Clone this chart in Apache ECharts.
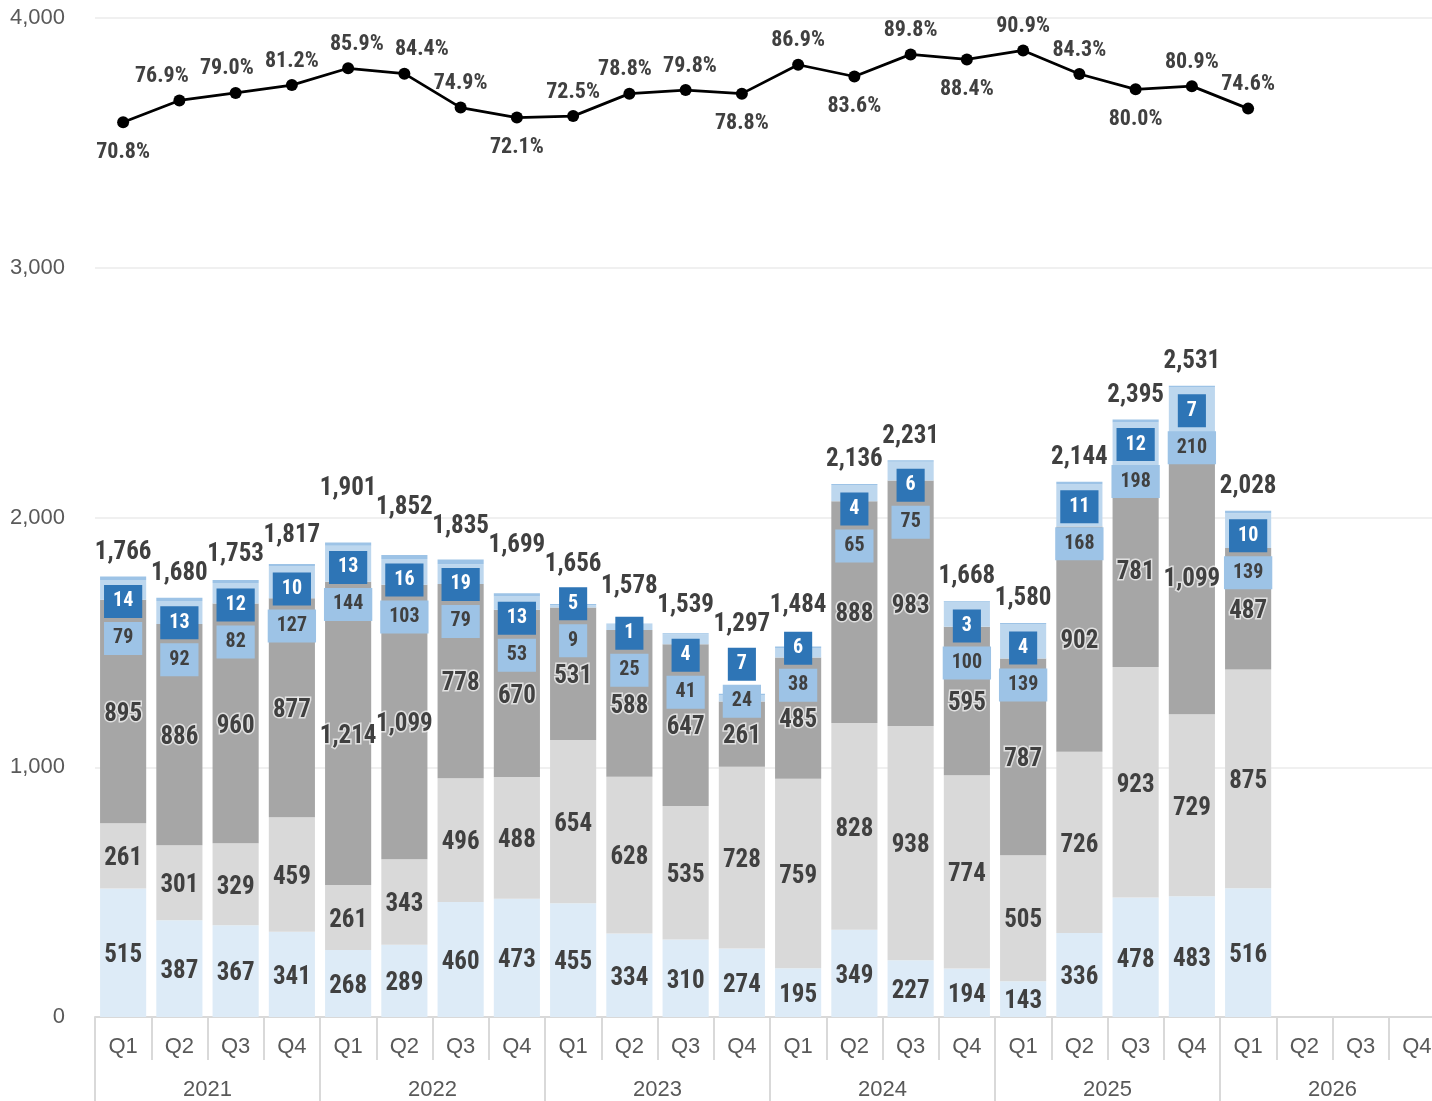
<!DOCTYPE html>
<html>
<head>
<meta charset="utf-8">
<script src="https://cdn.jsdelivr.net/npm/echarts@6/dist/echarts.min.js"></script>
<style>
  html, body { margin: 0; padding: 0; background: #fff; overflow: hidden; }
  /* the plot runs a little past the right edge of the window, as in the source image */
  #chart { width: 1445px; height: 1101px; }
</style>
</head>
<body>
<div id="chart"></div>
<script>
const quarters = ['Q1', 'Q2', 'Q3', 'Q4', 'Q1', 'Q2', 'Q3', 'Q4', 'Q1', 'Q2', 'Q3', 'Q4',
  'Q1', 'Q2', 'Q3', 'Q4', 'Q1', 'Q2', 'Q3', 'Q4', 'Q1', 'Q2', 'Q3', 'Q4']
const years = ['2021', '2022', '2023', '2024', '2025', '2026']

const seg1 = [515, 387, 367, 341, 268, 289, 460, 473, 455, 334, 310, 274, 195, 349, 227, 194, 143, 336, 478, 483, 516]
const seg2 = [261, 301, 329, 459, 261, 343, 496, 488, 654, 628, 535, 728, 759, 828, 938, 774, 505, 726, 923, 729, 875]
const seg3 = [895, 886, 960, 877, 1214, 1099, 778, 670, 531, 588, 647, 261, 485, 888, 983, 595, 787, 902, 781, 1099, 487]
const seg4 = [79, 92, 82, 127, 144, 103, 79, 53, 9, 25, 41, 24, 38, 65, 75, 100, 139, 168, 198, 210, 139]
const seg5 = [14, 13, 12, 10, 13, 16, 19, 13, 5, 1, 4, 7, 6, 4, 6, 3, 4, 11, 12, 7, 10]
const totals = [1766, 1680, 1753, 1817, 1901, 1852, 1835, 1699, 1656, 1578, 1539, 1297, 1484, 2136, 2231, 1668, 1580, 2144, 2395, 2531, 2028]
const ratio = [70.8, 76.9, 79.0, 81.2, 85.9, 84.4, 74.9, 72.1, 72.5, 78.8, 79.8, 78.8, 86.9, 83.6, 89.8, 88.4, 90.9, 84.3, 80.0, 80.9, 74.6]

const PLAIN = "'Liberation Sans', Arial, sans-serif"
const TXT = '#404040'
const NUDGE = 3 // condensed face sits a bit high in its box

// pick a condensed face if one is installed, else shrink a normal bold one
function pickNarrow () {
  const ctx = document.createElement('canvas').getContext('2d')
  const probe = '1,766 84.4% abcdefghijklm'
  ctx.font = 'bold 40px monospace'
  const base = ctx.measureText(probe).width
  const names = ['Liberation Sans Narrow', 'Arial Narrow', 'Noto Sans Condensed', 'Noto Sans SemiCondensed',
    'Roboto Condensed', 'DejaVu Sans Condensed', 'Open Sans Condensed']
  for (const n of names) {
    ctx.font = `bold 40px '${n}', monospace`
    if (Math.abs(ctx.measureText(probe).width - base) > 0.5) return { family: `'${n}'`, k: 1 }
  }
  return { family: PLAIN, k: 0.83 }
}
const narrow = pickNarrow()
const NARROW = narrow.family
const fs = s => Math.round(s * narrow.k)

const chart = echarts.init(document.getElementById('chart'))
const yAt = v => chart.convertToPixel({ yAxisIndex: 0 }, v)
const xAt = i => chart.convertToPixel({ xAxisIndex: 0 }, i)

// boxed labels sit under the bar top but above the mid-gray label;
// totals sit above, stepped up where neighbours would touch
function barLabelY () {
  const out = seg1.map((v, i) => {
    const stackTop = seg1[i] + seg2[i] + seg3[i] + seg4[i] + seg5[i]
    const top = yAt(stackTop)
    const mid = yAt(seg1[i] + seg2[i] + seg3[i] / 2)
    const light = Math.min(top + 59, mid - 36)
    const dark = light - 37
    return { stackTop: stackTop, light: light, dark: dark, total: Math.min(top - 27, dark - 39) }
  })
  for (let pass = 0; pass < 30; pass++) {
    for (let i = 0; i + 1 < out.length; i++) {
      const a = out[i]
      const b = out[i + 1]
      if (Math.abs(a.total - b.total) < 19) {
        const up = a.stackTop >= b.stackTop ? a : b
        const other = up === a ? b : a
        up.total = Math.min(up.total, other.total - 19)
      }
    }
  }
  return out
}

function placeBarLabel (which) {
  return function (params) {
    return {
      x: params.rect.x + params.rect.width / 2,
      y: barLabelY()[params.dataIndex][which] + NUDGE,
      align: 'center',
      verticalAlign: 'middle'
    }
  }
}

// ratio labels: above, or below at a dip; spread apart sideways when they would touch
function ratioBelow (i) {
  const v = ratio[i]
  const prev = ratio[i - 1]
  const next = ratio[i + 1]
  return (prev === undefined || v < prev) && next !== undefined && v < next
}

function ratioLabelPos () {
  const pts = ratio.map((v, i) => {
    const py = chart.convertToPixel({ yAxisIndex: 1 }, v)
    const below = ratioBelow(i)
    return { x: xAt(i), y: below ? py + 27 : py - 27, below: below }
  })
  for (let pass = 0; pass < 60; pass++) {
    for (let i = 0; i + 1 < pts.length; i++) {
      const a = pts[i]
      const b = pts[i + 1]
      if (a.below !== b.below || Math.abs(a.y - b.y) >= 22) continue
      const d = 65 - (b.x - a.x)
      if (d > 0) {
        a.x -= d / 2
        b.x += d / 2
      }
    }
  }
  return pts
}

const segLabel = {
  show: true,
  position: 'inside',
  offset: [0, NUDGE],
  color: TXT,
  fontFamily: NARROW,
  fontWeight: 'bold',
  fontSize: fs(25),
  formatter: p => p.value.toLocaleString('en-US')
}

const boxLabel = {
  fontSize: fs(20),
  lineHeight: 20,
  padding: [7, 9, 6, 9]
}

const option = {
  animation: false,
  backgroundColor: '#fff',
  grid: { left: 95, right: 0, top: 18, bottom: 84 },
  xAxis: [
    {
      type: 'category',
      data: quarters,
      position: 'bottom',
      axisLine: { show: true, onZero: false, lineStyle: { color: '#d9d9d9', width: 2 } },
      axisTick: { show: true, interval: 0, length: 43, lineStyle: { color: '#d9d9d9', width: 2 } },
      axisLabel: { interval: 0, margin: 19, fontSize: 22, color: '#595959', fontFamily: PLAIN }
    },
    {
      type: 'category',
      data: years,
      position: 'bottom',
      axisLine: { show: false, onZero: false },
      axisTick: { show: true, interval: 0, length: 84, lineStyle: { color: '#d9d9d9', width: 2 } },
      axisLabel: { interval: 0, margin: 62, fontSize: 22, color: '#595959', fontFamily: PLAIN }
    }
  ],
  yAxis: [
    {
      type: 'value',
      min: 0,
      max: 4000,
      interval: 1000,
      axisLine: { show: false },
      axisTick: { show: false },
      axisLabel: { margin: 30, fontSize: 22, color: '#595959', fontFamily: PLAIN,
        formatter: v => v.toLocaleString('en-US') },
      splitLine: { lineStyle: { color: '#ebebeb', width: 1.5 } }
    },
    {
      type: 'value',
      min: -180,
      max: 100,
      show: false,
      splitLine: { show: false }
    }
  ],
  series: [
    {
      type: 'bar', stack: 'q', data: seg1, barCategoryGap: '18%',
      itemStyle: { color: '#ddebf7' },
      label: segLabel
    },
    {
      type: 'bar', stack: 'q', data: seg2,
      itemStyle: { color: '#d9d9d9' },
      label: segLabel
    },
    {
      type: 'bar', stack: 'q', data: seg3,
      itemStyle: { color: '#a6a6a6' },
      label: Object.assign({}, segLabel, { textBorderColor: 'rgba(255,255,255,0.65)', textBorderWidth: 3 })
    },
    {
      type: 'bar', stack: 'q', data: seg4,
      itemStyle: { color: '#bdd7ee' },
      label: Object.assign({}, segLabel, boxLabel, { backgroundColor: '#9dc3e6' }),
      labelLayout: placeBarLabel('light')
    },
    {
      type: 'bar', stack: 'q', data: seg5,
      itemStyle: { color: '#9dc3e6' },
      label: Object.assign({}, segLabel, boxLabel, { color: '#fff', backgroundColor: '#2e75b6' }),
      labelLayout: placeBarLabel('dark')
    },
    {
      type: 'bar', stack: 'q', data: totals.map(() => 0),
      itemStyle: { color: 'transparent' },
      label: {
        show: true,
        position: 'top',
        color: TXT,
        fontFamily: NARROW,
        fontWeight: 'bold',
        fontSize: fs(25),
        formatter: p => totals[p.dataIndex].toLocaleString('en-US')
      },
      labelLayout: placeBarLabel('total')
    },
    {
      type: 'line',
      yAxisIndex: 1,
      data: ratio,
      z: 10,
      symbol: 'circle',
      symbolSize: 12,
      itemStyle: { color: '#000' },
      lineStyle: { color: '#000', width: 2.75 },
      label: {
        show: true,
        position: 'top',
        color: TXT,
        fontFamily: NARROW,
        fontWeight: 'bold',
        fontSize: fs(22),
        formatter: p => p.value.toFixed(1) + '%'
      },
      labelLayout: function (params) {
        const p = ratioLabelPos()[params.dataIndex]
        return { x: p.x, y: p.y + NUDGE, align: 'center', verticalAlign: 'middle' }
      }
    }
  ]
}

chart.setOption(option)
</script>
</body>
</html>
